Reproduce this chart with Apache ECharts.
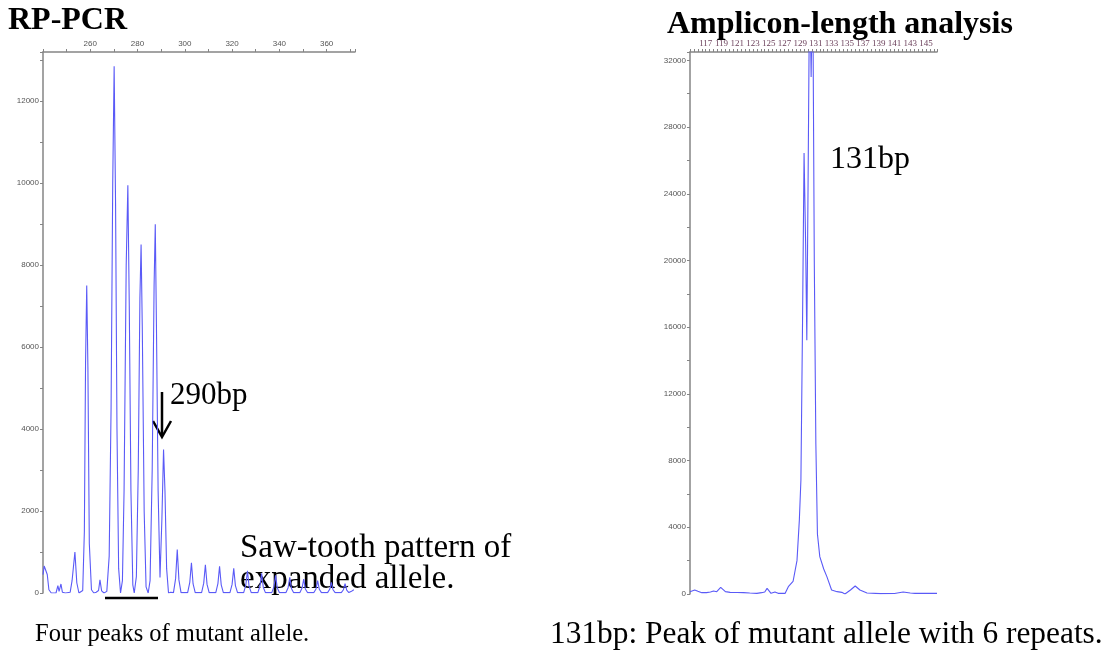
<!DOCTYPE html>
<html>
<head>
<meta charset="utf-8">
<script src="https://cdn.jsdelivr.net/npm/echarts@6/dist/echarts.min.js"></script>
<style>
html,body{margin:0;padding:0;background:#fff;}
#main{width:1113px;height:656px;}
</style>
</head>
<body>
<div id="main"></div>
<script>
// RP-PCR trace: fragment size (bp) / signal
var rpBp = [240.0, 240.5, 241.3, 241.8, 242.5, 243.5, 245.5, 246.3, 246.8, 247.6, 248.2, 249.5,
	251.5, 252.3, 253.5, 254.3, 255.2, 256.8, 257.5, 258.0, 258.5, 259.0, 259.6, 260.5, 261.5,
	262.5, 263.5, 264.1, 264.8, 265.8, 267.0, 268.0, 268.8, 269.5, 270.1, 270.7, 271.3, 272.0, 272.8,
	273.6, 274.3, 275.2, 275.9, 276.5, 277.2, 278.0, 278.6,
	279.5, 280.3, 281.0, 281.5, 282.0, 282.8, 283.6, 284.5,
	285.3, 286.2, 287.0, 287.5, 288.0, 288.7, 289.5, 290.3, 291.0, 291.6, 292.3, 293.1, 294.0,
	295.2, 296.1, 296.8, 297.5, 298.4,
	301.2, 302.1, 302.8, 303.5, 304.4,
	307.1, 308.0, 308.7, 309.4, 310.3,
	313.1, 314.0, 314.7, 315.4, 316.3,
	319.1, 320.0, 320.7, 321.4, 322.3,
	324.9, 325.8, 326.5, 327.2, 328.1,
	330.9, 331.8, 332.5, 333.2, 334.1,
	336.8, 337.7, 338.4, 339.1, 340.0,
	342.8, 343.7, 344.4, 345.1, 346.0,
	348.7, 349.6, 350.3, 351.0, 351.9,
	354.6, 355.5, 356.2, 356.9, 357.8,
	360.4, 361.3, 362.0, 362.7, 363.6,
	366.2, 367.1, 367.8, 368.5, 369.4,
	370.5, 371.5];
var rpRfu = [450, 660, 640, 450, 80, 0, 0, 180, 40, 220, 20, 0,
	20, 300, 1000, 250, 0, 60, 1500, 5600, 7500, 5500, 1200, 80, 0,
	20, 60, 320, 50, 0, 40, 900, 4500, 10000, 12850, 9500, 4000, 600, 0,
	300, 2500, 8000, 9950, 7000, 2500, 200, 0,
	400, 3000, 7200, 8500, 6500, 2000, 150, 0,
	300, 3000, 7500, 9000, 6500, 2500, 380, 1800, 3500, 2500, 600, 0, 20,
	10, 350, 1060, 320, 10,
	10, 260, 740, 220, 10,
	10, 240, 690, 210, 10,
	10, 230, 650, 200, 10,
	10, 210, 600, 180, 10,
	10, 190, 540, 160, 10,
	10, 170, 480, 140, 10,
	10, 150, 430, 130, 10,
	10, 130, 380, 110, 10,
	10, 120, 340, 100, 10,
	10, 100, 300, 90, 10,
	10, 90, 260, 80, 10,
	10, 80, 230, 70, 10,
	40, 80];

// Amplicon-length trace
var ampBp = [115.0, 115.6, 116.0, 116.5, 117.1, 117.6, 118.0, 118.4, 118.9, 119.5, 120.1, 121.0,
	121.8, 122.6, 123.5, 124.1, 124.5, 124.8, 125.1, 125.3, 125.8, 126.2, 127.1, 127.5, 127.7,
	128.1, 128.6, 128.9, 129.1, 129.3, 129.5, 129.7, 129.85, 130.0, 130.15, 130.3, 130.4, 130.5,
	130.65, 130.8, 131.0, 131.2, 131.5, 132.0, 132.4, 133.0, 133.7, 134.3, 134.7, 135.4, 136.0,
	136.6, 137.5, 139.2, 141.0, 142.1, 143.0, 143.6, 145.0, 146.4];
var ampRfu = [140, 240, 160, 80, 80, 120, 180, 140, 400, 140, 100, 90,
	80, 60, 40, 80, 120, 340, 160, 40, 120, 40, 40, 440, 540,
	750, 2000, 4430, 6830, 16000, 26440, 21000, 15220, 24000, 33500, 34500, 31000, 34500,
	33000, 20000, 9000, 3600, 2240, 1500, 1040, 240, 140, 100, 0, 240, 480,
	240, 60, 20, 30, 120, 60, 40, 40, 40];

var rpXTicks = [260, 280, 300, 320, 340, 360];
var rpYTicks = [0, 2000, 4000, 6000, 8000, 10000, 12000];
var ampXTicks = [117, 119, 121, 123, 125, 127, 129, 131, 133, 135, 137, 139, 141, 143, 145];
var ampYTicks = [0, 4000, 8000, 12000, 16000, 20000, 24000, 28000, 32000];

var myChart = echarts.init(document.getElementById('main'));

var lineColor = '#5a5af7';
var axisGray = '#858585';

function pairs(xs, ys) {
	var out = [];
	for (var i = 0; i < xs.length; i++) out.push([xs[i], ys[i]]);
	return out;
}
function only(list) {
	return function (v) { return list.indexOf(v) >= 0 ? String(v) : ''; };
}
function xAx(idx, min, max, interval, split, ticks, label) {
	return {
		type: 'value', gridIndex: idx, position: 'top', min: min, max: max, interval: interval,
		axisLine: {show: true, onZero: false, lineStyle: {color: axisGray, width: 1.5}},
		axisTick: {show: true, length: 3, lineStyle: {color: axisGray}},
		minorTick: {show: true, splitNumber: split, length: 3, lineStyle: {color: axisGray}},
		splitLine: {show: false},
		axisLabel: Object.assign({margin: 4, formatter: only(ticks)}, label)
	};
}
function yAx(idx, max, interval, ticks) {
	return {
		type: 'value', gridIndex: idx, min: 0, max: max, interval: interval,
		axisLine: {show: true, onZero: false, lineStyle: {color: axisGray, width: 1.5}},
		axisTick: {show: true, length: 3, lineStyle: {color: axisGray}},
		minorTick: {show: true, splitNumber: 2, length: 3, lineStyle: {color: axisGray}},
		splitLine: {show: false},
		axisLabel: {fontSize: 8, color: '#555', fontFamily: 'Liberation Sans', margin: 4, formatter: only(ticks)}
	};
}

var serif = 'Liberation Serif';
function txt(x, y, s, size, bold) {
	return {
		type: 'text', x: x, y: y, silent: true,
		style: {text: s, fill: '#000', verticalAlign: 'middle',
			font: (bold ? 'bold ' : '') + size + 'px "' + serif + '"'}
	};
}

option = {
	animation: false,
	grid: [
		{left: 43, top: 52, width: 312, height: 541},
		{left: 690, top: 52, width: 247, height: 542}
	],
	xAxis: [
		xAx(0, 240, 372, 20, 2, rpXTicks, {fontSize: 8, color: '#555', fontFamily: 'Liberation Sans'}),
		xAx(1, 115, 146.4, 2, 4, ampXTicks, {fontSize: 9, color: '#6a3f5a', fontFamily: serif})
	],
	yAxis: [
		yAx(0, 13200, 2000, rpYTicks),
		yAx(1, 32500, 4000, ampYTicks)
	],
	series: [
		{type: 'line', xAxisIndex: 0, yAxisIndex: 0, showSymbol: false, clip: true,
			lineStyle: {color: lineColor, width: 1.1}, data: pairs(rpBp, rpRfu)},
		{type: 'line', xAxisIndex: 1, yAxisIndex: 1, showSymbol: false, clip: true,
			lineStyle: {color: lineColor, width: 1.1}, data: pairs(ampBp, ampRfu)}
	],
	graphic: [
		txt(8, 21, 'RP-PCR', 32, true),
		txt(667, 25, 'Amplicon-length analysis', 32, true),
		txt(170, 396, '290bp', 31),
		txt(240, 548, 'Saw-tooth pattern of', 33),
		txt(240, 579, 'expanded allele.', 33),
		txt(35, 635, 'Four peaks of mutant allele.', 24.5),
		txt(550, 635, '131bp: Peak of mutant allele with 6 repeats.', 31.4),
		txt(830, 160, '131bp', 32),
		// arrow to the 290bp peak
		{type: 'line', silent: true, shape: {x1: 162, y1: 392, x2: 162, y2: 436},
			style: {stroke: '#000', lineWidth: 2.5}},
		{type: 'polyline', silent: true, shape: {points: [[153, 421], [162, 437], [171, 421]]},
			style: {stroke: '#000', lineWidth: 2.5, fill: null}},
		// bar under the four mutant peaks
		{type: 'line', silent: true, shape: {x1: 105, y1: 598, x2: 158, y2: 598},
			style: {stroke: '#000', lineWidth: 2.5}}
	]
};
myChart.setOption(option);
</script>
</body>
</html>
